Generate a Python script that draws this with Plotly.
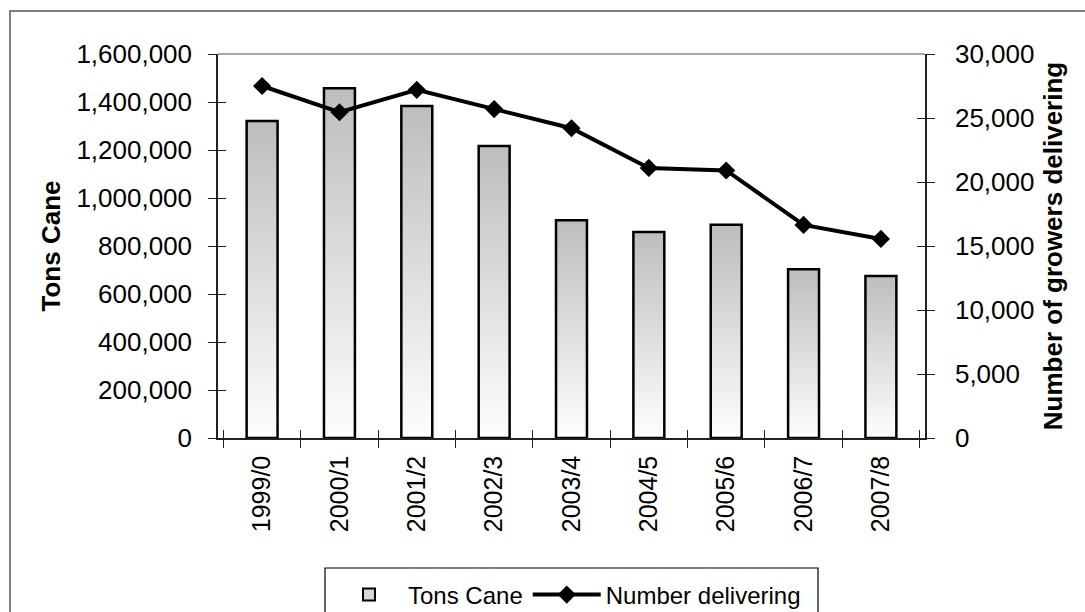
import plotly.graph_objects as go

seasons = ["1999/0", "2000/1", "2001/2", "2002/3", "2003/4", "2004/5", "2005/6", "2006/7", "2007/8"]
tons_cane = [1321000, 1457000, 1383000, 1217000, 907000, 858000, 889000, 703000, 675000]
growers = [27500, 25450, 27200, 25700, 24200, 21100, 20900, 16650, 15550]

FONT = "Liberation Sans, Arial, sans-serif"
W, H = 1085, 612
ML, MR, MT, MB = 218, 160, 54, 174
PW, PH = W - ML - MR, H - MT - MB


def px_x(p):
    return (p - ML) / PW


def px_y(p):
    return (MT + PH - p) / PH


fig = go.Figure()

# gradient bars (top grey -> bottom white) built as overlaid shrinking bars
N = 40
top_rgb, bot_rgb = (190, 190, 190), (253, 253, 253)
for i in range(N):
    f = i / (N - 1)
    c = tuple(round(top_rgb[k] + (bot_rgb[k] - top_rgb[k]) * f) for k in range(3))
    fig.add_trace(go.Bar(
        x=seasons, y=[v * (N - i) / N for v in tons_cane], width=0.4,
        marker=dict(color="rgb(%d,%d,%d)" % c, line=dict(width=0)),
        showlegend=False, hoverinfo="skip", xaxis="x", yaxis="y"))

# outline
fig.add_trace(go.Bar(
    x=seasons, y=tons_cane, width=0.4, name="Tons Cane",
    marker=dict(color="rgba(0,0,0,0)", line=dict(color="black", width=2.5)),
    showlegend=False, xaxis="x", yaxis="y"))

# legend entry for bars
fig.add_trace(go.Bar(
    x=seasons, y=[None] * len(seasons), name="Tons Cane",
    marker=dict(color="#d6d6d6", line=dict(color="black", width=2)),
    showlegend=True, xaxis="x", yaxis="y"))

fig.add_trace(go.Scatter(
    x=seasons, y=growers, name="Number delivering", mode="lines+markers",
    line=dict(color="black", width=4),
    marker=dict(symbol="diamond", size=14, color="black"),
    xaxis="x", yaxis="y2"))

# invisible helper traces so the inside-tick overlay axes get drawn
fig.add_trace(go.Scatter(x=seasons, y=tons_cane, mode="none", showlegend=False,
                         hoverinfo="skip", xaxis="x2", yaxis="y3"))
fig.add_trace(go.Scatter(x=seasons, y=growers, mode="none", showlegend=False,
                         hoverinfo="skip", xaxis="x2", yaxis="y4"))

axis_col = "#222222"
tickfont = dict(family=FONT, size=26, color="black")
titlefont = dict(family=FONT, size=26, color="black")

fig.update_layout(
    width=W, height=H,
    margin=dict(l=ML, r=MR, t=MT, b=MB, autoexpand=False),
    paper_bgcolor="white", plot_bgcolor="white",
    barmode="overlay",
    font=dict(family=FONT, size=24, color="black"),
    xaxis=dict(type="category", tickson="boundaries", ticks="outside", ticklen=8,
               tickcolor=axis_col, tickwidth=1.2, showline=True, linecolor=axis_col,
               linewidth=1.5, tickangle=-90, tickfont=dict(family=FONT, size=25, color="black"),
               showgrid=False, zeroline=False, ticklabelstandoff=6),
    xaxis2=dict(type="category", overlaying="x", anchor="y", side="bottom",
                tickson="boundaries", ticks="inside", ticklen=8, tickcolor=axis_col,
                tickwidth=1.2, showticklabels=False, showline=False, showgrid=False,
                zeroline=False, matches="x"),
    yaxis=dict(range=[0, 1600000], dtick=200000, tickformat=",", ticks="outside",
               ticklen=8, tickcolor=axis_col, tickwidth=1.2, showline=True,
               linecolor=axis_col, linewidth=1.5, showgrid=False, zeroline=False,
               tickfont=tickfont, ticklabelstandoff=11,
               title=dict(text="<b>Tons Cane</b>", font=titlefont, standoff=8)),
    yaxis2=dict(range=[0, 30000], dtick=5000, tickformat=",", ticks="outside",
                ticklen=8, tickcolor=axis_col, tickwidth=1.2, showline=True,
                linecolor=axis_col, linewidth=1.5, showgrid=False, zeroline=False,
                side="right", overlaying="y", anchor="x", tickfont=tickfont,
                ticklabelstandoff=15,
                title=dict(text="<b>Number of growers delivering</b>",
                           font=titlefont, standoff=10)),
    yaxis3=dict(range=[0, 1600000], dtick=200000, overlaying="y", anchor="x",
                side="left", ticks="inside", ticklen=8, tickcolor=axis_col,
                tickwidth=1.2, showticklabels=False, showline=False,
                showgrid=False, zeroline=False),
    yaxis4=dict(range=[0, 30000], dtick=5000, overlaying="y", anchor="x",
                side="right", ticks="inside", ticklen=8, tickcolor=axis_col,
                tickwidth=1.2, showticklabels=False, showline=False,
                showgrid=False, zeroline=False),
    legend=dict(orientation="h", x=px_x(330), xanchor="left",
                y=px_y(595), yanchor="middle",
                borderwidth=0, bgcolor="rgba(0,0,0,0)",
                font=dict(family=FONT, size=24, color="black"),
                traceorder="normal", itemwidth=68),
    showlegend=True,
)

# plot-area top border (grey), legend frame and outer chart border
fig.add_shape(type="line", xref="paper", yref="paper", x0=0, x1=1, y0=1, y1=1,
              line=dict(color="#888888", width=1.5))
fig.add_shape(type="rect", xref="paper", yref="paper",
              x0=px_x(325), x1=px_x(818), y0=px_y(H + 40), y1=px_y(568),
              line=dict(color="black", width=1.2), fillcolor="white", layer="below")
fig.add_shape(type="rect", xref="paper", yref="paper",
              x0=px_x(10), x1=px_x(W + 40), y0=px_y(H + 40), y1=px_y(11),
              line=dict(color="#555555", width=1.5), fillcolor="rgba(0,0,0,0)",
              layer="below")

fig.write_html("out.html")
